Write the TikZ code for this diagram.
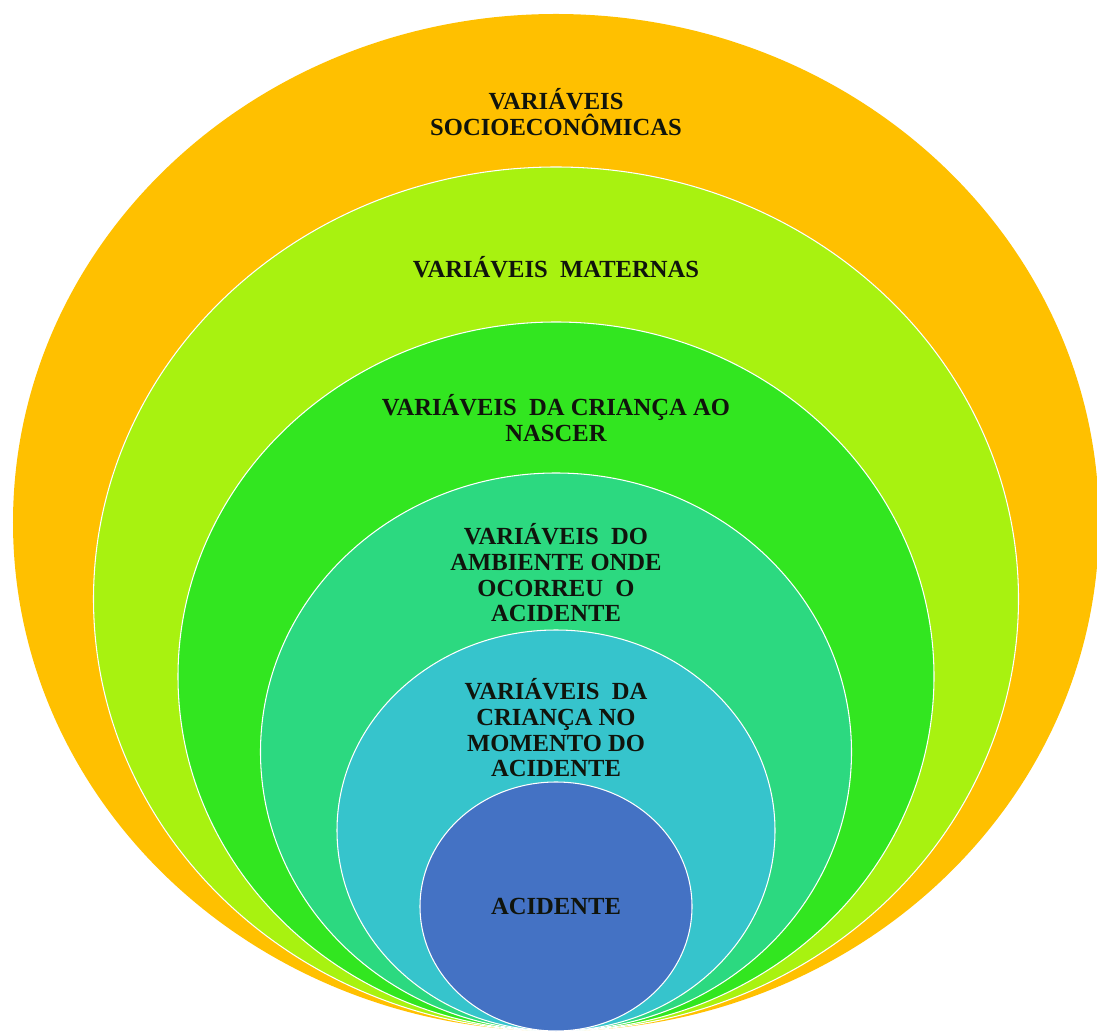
\documentclass[tikz,border=0pt]{standalone}
\usepackage{fontspec}
\setmainfont{Liberation Serif}
\usepackage{tikz}
\usetikzlibrary{shapes.geometric,positioning}
\definecolor{LayerOrange}{HTML}{FFC000}
\definecolor{LayerLime}{HTML}{A8F210}
\definecolor{LayerGreen}{HTML}{32E620}
\definecolor{LayerTeal}{HTML}{2CD980}
\definecolor{LayerCyan}{HTML}{36C4CC}
\definecolor{LayerBlue}{HTML}{4472C4}
\definecolor{LabelDark}{HTML}{10140C}

\begin{document}
\begin{tikzpicture}[
  layer/.style={ellipse,draw=white,line width=0.6pt,inner sep=0pt,
    outer sep=0pt,anchor=south},
  label/.style={align=center,text=LabelDark,
    font=\fontsize{14}{14.6}\selectfont\bfseries}
]
\useasboundingbox (0,0) rectangle (21.94,20.66);
\coordinate (base) at (11.12,0.04);
% nested layers, all touching at the base
\node[layer,draw=none,fill=LayerOrange,minimum width=21.72cm,minimum height=20.34cm] (socio) at (base) {};
\node[layer,fill=LayerLime,minimum width=18.50cm,minimum height=17.28cm] (materna) at (base) {};
\node[layer,fill=LayerGreen,minimum width=15.12cm,minimum height=14.18cm] (nascer) at (base) {};
\node[layer,fill=LayerTeal,minimum width=11.82cm,minimum height=11.16cm] (ambiente) at (base) {};
\node[layer,fill=LayerCyan,minimum width=8.76cm,minimum height=8.02cm] (momento) at (base) {};
\node[layer,fill=LayerBlue,minimum width=5.44cm,minimum height=4.98cm] (acidente) at (base) {};

\node[label] (socioText) at ([yshift=-1.96cm]socio.north) {VARIÁVEIS\\SOCIOECONÔMICAS};
\node[label] (maternaText) at ([yshift=-2.0cm]materna.north) {VARIÁVEIS\ \ MATERNAS};
\node[label] (nascerText) at ([yshift=-1.92cm]nascer.north) {VARIÁVEIS\ \ DA CRIANÇA AO\\NASCER};
\node[label] (ambienteText) at ([yshift=-2.0cm]ambiente.north) {VARIÁVEIS\ \ DO\\AMBIENTE ONDE\\OCORREU\ \ O\\ACIDENTE};
\node[label] (momentoText) at ([yshift=-1.96cm]momento.north) {VARIÁVEIS\ \ DA\\CRIANÇA NO\\MOMENTO DO\\ACIDENTE};
\node[label] (acidenteText) at (acidente.center) {ACIDENTE};
\end{tikzpicture}
\end{document}
